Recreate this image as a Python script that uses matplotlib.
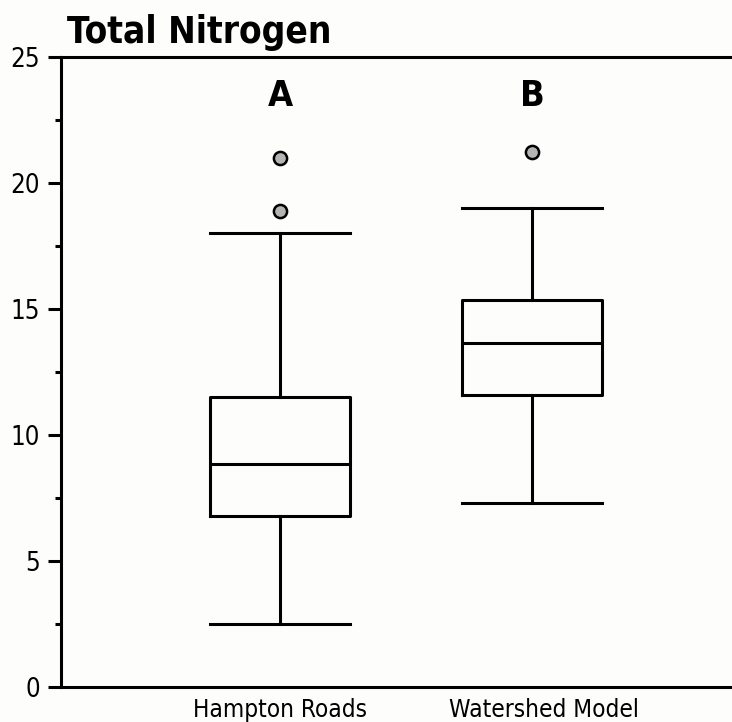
import matplotlib
matplotlib.use("Agg")
import os
import matplotlib.pyplot as plt
import matplotlib.transforms as mtransforms
from matplotlib import font_manager
from matplotlib.font_manager import FontProperties


def pick_narrow(bold):
    """Return a FontProperties for a narrow sans face, regular or bold."""
    cands = []
    for f in font_manager.fontManager.ttflist:
        base = os.path.basename(f.fname).lower()
        narrowish = ("narrow" in f.name.lower() or "condensed" in f.name.lower()
                     or "narrow" in base or "condensed" in base
                     or str(f.stretch) in ("condensed", "semi-condensed", "extra-condensed"))
        if not narrowish or "mono" in base or "serif" in base and "sans" not in base:
            continue
        w = f.weight if isinstance(f.weight, int) else (700 if "bold" in str(f.weight) else 400)
        if "oblique" in base or "italic" in base or f.style != "normal":
            continue
        is_bold = w >= 600 or "bold" in base
        if is_bold != bold:
            continue
        rank = 0 if "liberation" in base else (1 if "dejavu" in base else 2)
        cands.append((rank, f.fname))
    if cands:
        cands.sort()
        return FontProperties(fname=cands[0][1])
    return FontProperties(family="Liberation Sans", weight="bold" if bold else "normal")


font_reg = pick_narrow(False)
font_bold = pick_narrow(True)

categories = ["Hampton Roads", "Watershed Model"]
group_letters = ["A", "B"]
whisker_low = [2.5, 7.3]
q1 = [6.8, 11.6]
median = [8.85, 13.65]
q3 = [11.5, 15.35]
whisker_high = [18.0, 19.0]
outliers = [[21.0, 18.9], [21.25]]
y_ticks = [0, 5, 10, 15, 20, 25]

stats = []
for i, name in enumerate(categories):
    stats.append(dict(label=name, whislo=whisker_low[i], q1=q1[i], med=median[i],
                      q3=q3[i], whishi=whisker_high[i], fliers=outliers[i]))

fig = plt.figure(figsize=(7.32, 7.22), dpi=100, facecolor="#fdfdfc")
ax = fig.add_axes([61 / 732, 35 / 722, 1 - 61 / 732, 630 / 722])
ax.set_facecolor("#fdfdfc")

lw = 2.2
ax.bxp(stats, positions=[1, 2], widths=0.556, showfliers=True,
       boxprops=dict(color="black", linewidth=lw),
       medianprops=dict(color="black", linewidth=lw),
       whiskerprops=dict(color="black", linewidth=lw),
       capprops=dict(color="black", linewidth=lw),
       capwidths=0.556,
       flierprops=dict(marker="o", markersize=9.5, markerfacecolor="#b4b4b4",
                       markeredgecolor="black", markeredgewidth=1.8))

ax.set_xlim(0.131, 2.794)
ax.set_ylim(0, 25)
ax.set_yticks(y_ticks)
ax.set_yticks([2.5, 7.5, 12.5, 17.5, 22.5], minor=True)
ax.tick_params(axis="y", which="major", length=9.5, width=lw, pad=5.5)
ax.tick_params(axis="y", which="minor", length=4.5, width=lw)
ax.tick_params(axis="x", length=0, pad=8)
ax.set_xticks([1, 2])
ax.set_xticklabels(categories)

for lab in ax.get_yticklabels():
    lab.set_fontproperties(font_reg)
    lab.set_fontsize(18.5)
for lab in ax.get_xticklabels():
    lab.set_fontproperties(font_reg)
    lab.set_fontsize(17.5)

# the second category label sits a little right of its box
shift = mtransforms.ScaledTranslation(12 / 100, 0, fig.dpi_scale_trans)
xl = ax.get_xticklabels()[1]
xl.set_transform(xl.get_transform() + shift)

for side in ["left", "bottom", "top"]:
    ax.spines[side].set_linewidth(lw)
ax.spines["right"].set_visible(False)

for i, letter in enumerate(group_letters):
    ax.text(i + 1, 23.45, letter, ha="center", va="center",
            fontproperties=font_bold, fontsize=26)

fig.text(67 / 732, 1 - 43 / 722, "Total Nitrogen", ha="left", va="baseline",
         fontproperties=font_bold, fontsize=26.5)

fig.savefig("out.png", dpi=100, facecolor=fig.get_facecolor())
